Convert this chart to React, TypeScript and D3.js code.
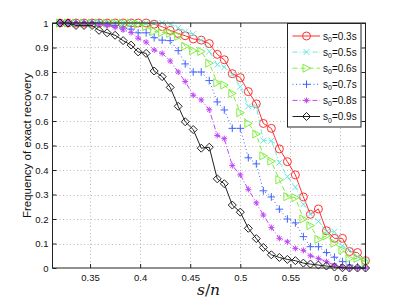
import React, { useEffect, useRef } from "react";
import * as d3 from "d3";

// s/n sample points
const sn = [
  0.32, 0.328, 0.336, 0.344, 0.352, 0.359, 0.367, 0.375, 0.383, 0.391,
  0.398, 0.406, 0.414, 0.422, 0.43, 0.438, 0.445, 0.453, 0.461, 0.469,
  0.477, 0.484, 0.492, 0.5, 0.508, 0.516, 0.523, 0.531, 0.539, 0.547,
  0.555, 0.563, 0.57, 0.578, 0.586, 0.594, 0.602, 0.609, 0.617, 0.625,
];

const s03 = [
  1, 1, 1, 1, 1, 1, 1, 1, 1, 1,
  1, 1, 0.995, 0.985, 0.97, 0.957, 0.948, 0.935, 0.93, 0.916,
  0.872, 0.85, 0.793, 0.777, 0.72, 0.67, 0.59, 0.57, 0.486, 0.434,
  0.38, 0.29, 0.219, 0.241, 0.152, 0.121, 0.121, 0.067, 0.063, 0.03,
];
const s05 = [
  1, 1, 1, 1, 1, 1, 1, 1, 1, 1,
  1, 1, 1, 1, 0.995, 0.98, 0.965, 0.955, 0.93, 0.884,
  0.83, 0.82, 0.79, 0.74, 0.66, 0.658, 0.52, 0.52, 0.43, 0.373,
  0.33, 0.26, 0.22, 0.19, 0.148, 0.148, 0.09, 0.075, 0.046, 0.033,
];
const s06 = [
  1, 1, 1, 1, 1, 1, 1, 1, 1, 1,
  0.995, 0.985, 0.966, 0.961, 0.958, 0.946, 0.905, 0.887, 0.884, 0.836,
  0.756, 0.747, 0.713, 0.634, 0.59, 0.547, 0.458, 0.436, 0.36, 0.291,
  0.287, 0.2, 0.173, 0.117, 0.131, 0.101, 0.073, 0.039, 0.039, 0.026,
];
const s07 = [
  1, 1, 1, 1, 1, 1, 0.995, 0.99, 0.98, 0.975,
  0.96, 0.96, 0.94, 0.93, 0.928, 0.887, 0.833, 0.8, 0.8, 0.765,
  0.678, 0.645, 0.57, 0.57, 0.45, 0.425, 0.315, 0.29, 0.24, 0.2,
  0.184, 0.128, 0.087, 0.087, 0.063, 0.044, 0.026, 0.012, 0.005, 0,
];
const s08 = [
  1, 1, 1, 1, 1, 0.995, 0.99, 0.982, 0.972, 0.961,
  0.938, 0.922, 0.89, 0.876, 0.845, 0.8, 0.761, 0.705, 0.686, 0.646,
  0.541, 0.528, 0.418, 0.38, 0.321, 0.266, 0.216, 0.165, 0.121, 0.107,
  0.08, 0.072, 0.05, 0.039, 0.026, 0.012, 0.003, 0, 0, 0,
];
const s09 = [
  1, 1, 0.99, 0.99, 0.99, 0.97, 0.96, 0.95, 0.928, 0.91,
  0.882, 0.876, 0.804, 0.781, 0.737, 0.66, 0.597, 0.565, 0.489, 0.493,
  0.364, 0.344, 0.257, 0.228, 0.162, 0.12, 0.084, 0.054, 0.043, 0.035,
  0.03, 0.02, 0.016, 0.012, 0.008, 0.004, 0.001, 0, 0, 0,
];

const legendLabels = ["0.3", "0.5", "0.6", "0.7", "0.8", "0.9"];
const xTicks = [0.35, 0.4, 0.45, 0.5, 0.55, 0.6];
const yTicks = [0, 0.1, 0.2, 0.3, 0.4, 0.5, 0.6, 0.7, 0.8, 0.9, 1];

const styles = [
  { color: "#ff3030", dash: null, marker: "circle" },
  { color: "#6ae8de", dash: "5,2,1,2", marker: "x" },
  { color: "#80ee40", dash: "5,3", marker: "tri" },
  { color: "#4464ff", dash: "1,2.5", marker: "plus" },
  { color: "#c048f5", dash: "5,2,1,2", marker: "star" },
  { color: "#222222", dash: null, marker: "diamond" },
];

const markerPath: Record<string, string> = {
  x: "M-3,-3L3,3M-3,3L3,-3",
  tri: "M-3.5,-4L4,0L-3.5,4Z",
  plus: "M-3.8,0H3.8M0,-3.8V3.8",
  star: "M-3,0H3M0,-3V3M-2.1,-2.1L2.1,2.1M-2.1,2.1L2.1,-2.1",
  diamond: "M0,-4L4,0L0,4L-4,0Z",
};

function drawMarker(g, type, color) {
  if (type === "circle") {
    g.append("circle").attr("r", 4).attr("fill", "none").attr("stroke", color).attr("stroke-width", 1);
  } else {
    g.append("path")
      .attr("d", markerPath[type])
      .attr("fill", "none")
      .attr("stroke", color)
      .attr("stroke-width", 1);
  }
}

export default function App() {
  const ref = useRef(null);

  useEffect(() => {
    const data = [s03, s05, s06, s07, s08, s09];
    const width = 403,
      height = 303;
    const left = 52.5,
      right = 365.5,
      top = 23,
      bottom = 268;

    const svg = d3.select(ref.current);
    svg.selectAll("*").remove();
    svg.attr("width", width).attr("height", height);
    svg.append("rect").attr("width", width).attr("height", height).attr("fill", "#fff");

    const x = d3.scaleLinear().domain([0.3125, 0.625]).range([left, right]);
    const y = d3.scaleLinear().domain([0, 1]).range([bottom, top]);

    // grid
    const grid = svg.append("g").attr("stroke", "#b8b8b8").attr("stroke-dasharray", "1,2.5");
    grid.selectAll(".gx").data(xTicks).enter().append("line")
      .attr("x1", (d) => Math.round(x(d)) + 0.5).attr("x2", (d) => Math.round(x(d)) + 0.5)
      .attr("y1", top).attr("y2", bottom);
    grid.selectAll(".gy").data(yTicks.slice(1, -1)).enter().append("line")
      .attr("y1", (d) => Math.round(y(d)) + 0.5).attr("y2", (d) => Math.round(y(d)) + 0.5)
      .attr("x1", left).attr("x2", right);

    // axes (ticks inward on all four sides)
    const font = "'Liberation Sans', Arial, sans-serif";
    const axL = svg.append("g").attr("transform", `translate(${left},0)`)
      .call(d3.axisLeft(y).tickValues(yTicks).tickSizeInner(-4).tickSizeOuter(0).tickPadding(4).tickFormat((d) => String(d)));
    const axB = svg.append("g").attr("transform", `translate(0,${bottom})`)
      .call(d3.axisBottom(x).tickValues(xTicks).tickSizeInner(-4).tickSizeOuter(0).tickPadding(6).tickFormat((d) => String(d)));
    const axR = svg.append("g").attr("transform", `translate(${right},0)`)
      .call(d3.axisRight(y).tickValues(yTicks).tickSizeInner(-4).tickSizeOuter(0).tickFormat(() => ""));
    const axT = svg.append("g").attr("transform", `translate(0,${top})`)
      .call(d3.axisTop(x).tickValues(xTicks).tickSizeInner(-4).tickSizeOuter(0).tickFormat(() => ""));
    [axL, axB, axR, axT].forEach((a) => {
      a.select(".domain").remove();
      a.selectAll("line").attr("stroke", "#222");
      a.selectAll("text").attr("font-family", font).attr("font-size", 9.5).attr("fill", "#111");
    });

    // series
    const line = d3.line().x((d) => x(d[0])).y((d) => y(d[1]));
    data.forEach((vals, i) => {
      const st = styles[i];
      const pts = sn.map((s, j) => [s, vals[j]]);
      svg.append("path")
        .attr("d", line(pts))
        .attr("fill", "none")
        .attr("stroke", st.color)
        .attr("stroke-width", 1)
        .attr("stroke-dasharray", st.dash);
      pts.forEach((p) => {
        const g = svg.append("g").attr("transform", `translate(${x(p[0])},${y(p[1])})`);
        drawMarker(g, st.marker, st.color);
      });
    });

    // box
    svg.append("rect")
      .attr("x", left).attr("y", top).attr("width", right - left).attr("height", bottom - top)
      .attr("fill", "none").attr("stroke", "#222").attr("stroke-width", 1);

    // legend
    const lg = svg.append("g");
    lg.append("rect")
      .attr("x", 287.5).attr("y", 23.5).attr("width", 73.5).attr("height", 103.5)
      .attr("fill", "#fff").attr("stroke", "#222");
    legendLabels.forEach((lab, i) => {
      const st = styles[i];
      const cy = 36 + i * 16.1;
      lg.append("line")
        .attr("x1", 292.5).attr("x2", 320).attr("y1", cy).attr("y2", cy)
        .attr("stroke", st.color).attr("stroke-width", 1).attr("stroke-dasharray", st.dash);
      drawMarker(lg.append("g").attr("transform", `translate(306.5,${cy})`), st.marker, st.color);
      const t = lg.append("text")
        .attr("x", 323).attr("y", cy + 3.5)
        .attr("font-family", font).attr("font-size", 10).attr("fill", "#111");
      t.append("tspan").text("s");
      t.append("tspan").attr("font-size", 7).attr("dy", 2.5).text("0");
      t.append("tspan").attr("dy", -2.5).text(`=${lab}s`);
    });

    // axis labels
    svg.append("text")
      .attr("transform", "translate(31,145.5) rotate(-90)")
      .attr("text-anchor", "middle")
      .attr("font-family", font).attr("font-size", 11.5).attr("fill", "#111")
      .text("Frequency of exact recovery");
    const xl = svg.append("text")
      .attr("x", 208.5).attr("y", 295)
      .attr("text-anchor", "middle")
      .attr("font-family", "'DejaVu Serif', 'Liberation Serif', serif")
      .attr("font-size", 15.5).attr("fill", "#111");
    xl.append("tspan").attr("font-style", "italic").text("s");
    xl.append("tspan").text("/");
    xl.append("tspan").attr("font-style", "italic").text("n");
  }, []);

  return (
    <div style={{ position: "absolute", left: 0, top: 0 }}>
      <svg ref={ref} style={{ display: "block" }}></svg>
    </div>
  );
}
